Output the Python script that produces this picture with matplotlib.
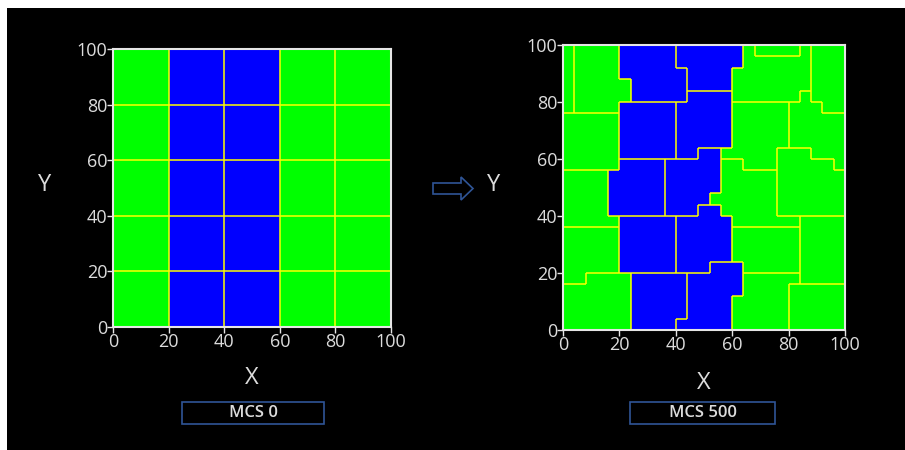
import numpy as np
import matplotlib.pyplot as plt
from matplotlib.colors import ListedColormap
from matplotlib.collections import LineCollection
from matplotlib.patches import Rectangle, FancyArrow
from matplotlib.transforms import IdentityTransform

plt.rcParams['font.family'] = ['Open Sans', 'DejaVu Sans']

# grain maps: one letter per grain, rows from the top (y=100) down
# lowercase = blue phase, uppercase = green phase
mcs0_rows = [
    "AbcDE",
    "FghIJ",
    "KlmNO",
    "PqrST",
    "UvwXY",
]

mcs500_rows = [
    "ABBBBaaaaabbbbbbHGGGGHIII",
    "ABBBBaaaaabbbbbbHHHHHHIII",
    "ABBBBaaaaaabbbbHHHHHHHIII",
    "ABBBBBaaaaabbbbHHHHHHHIII",
    "ABBBBBaaaaaddddHHHHHHLIII",
    "ABBBBcccccdddddKKKKKLLLII",
    "CCCCCcccccdddddKKKKKLLLLL",
    "CCCCCcccccdddddKKKKKLLLLL",
    "CCCCCcccccdddddKKKKKLLLLL",
    "CCCCCcccccddffKKKKKNNNLLL",
    "CCCCCeeeefffffMMKKKNNNNNL",
    "DDDDeeeeefffffMMMMMNNNNNN",
    "DDDDeeeeefffffMMMMMNNNNNN",
    "DDDDeeeeeffffMMMMMMNNNNNN",
    "DDDDeeeeefffhhMMMMMNNNNNN",
    "DDDDDggggghhhhhMMMMMMPPPP",
    "EEEEEggggghhhhhOOOOOOPPPP",
    "EEEEEggggghhhhhOOOOOOPPPP",
    "EEEEEggggghhhhhOOOOOOPPPP",
    "EEEEEggggghhhjjjOOOOOPPPP",
    "EEFFFFiiiiijjjjjQQQQQPPPP",
    "FFFFFFiiiiijjjjjQQQQRRRRR",
    "FFFFFFiiiiijjjjQQQQQRRRRR",
    "FFFFFFiiiiijjjjQQQQQRRRRR",
    "FFFFFFiiiijjjjjQQQQQRRRRR",
]

ticks = [0, 20, 40, 60, 80, 100]
titles = ["MCS 0", "MCS 500"]

GREEN = '#00ff00'
BLUE = '#0000ff'
EDGE = '#2f5597'
TXT = '#dcdcdc'


def draw_grains(ax, rows):
    grid = np.array([list(r) for r in rows])[::-1]
    ny, nx = grid.shape
    xs = np.linspace(0, 100, nx + 1)
    ys = np.linspace(0, 100, ny + 1)
    phase = np.vectorize(str.islower)(grid).astype(int)
    ax.pcolormesh(xs, ys, phase, cmap=ListedColormap([GREEN, BLUE]),
                  vmin=0, vmax=1)
    segs = []
    for j in range(ny):
        for i in range(nx - 1):
            if grid[j, i] != grid[j, i + 1]:
                segs.append([(xs[i + 1], ys[j]), (xs[i + 1], ys[j + 1])])
    for j in range(ny - 1):
        for i in range(nx):
            if grid[j, i] != grid[j + 1, i]:
                segs.append([(xs[i], ys[j + 1]), (xs[i + 1], ys[j + 1])])
    ax.add_collection(LineCollection(segs, colors='#ffff00', linewidths=1.1))


fig = plt.figure(figsize=(9.05, 4.5), dpi=100, facecolor='white')
fig.add_artist(Rectangle((7 / 905, 0), 1, 442 / 450, transform=fig.transFigure,
                         facecolor='black', edgecolor='none', zorder=0))

ax1 = fig.add_axes([113 / 905, 123 / 450, 278 / 905, 278 / 450])
ax2 = fig.add_axes([563 / 905, 120 / 450, 282 / 905, 285 / 450])

for ax, rows in [(ax1, mcs0_rows), (ax2, mcs500_rows)]:
    draw_grains(ax, rows)
    ax.set_xlim(0, 100)
    ax.set_ylim(0, 100)
    ax.set_xticks(ticks)
    ax.set_yticks(ticks)
    ax.set_facecolor('black')
    for s in ax.spines.values():
        s.set_color('#e6e6e6')
        s.set_linewidth(1.5)
    ax.tick_params(colors='#e6e6e6', labelcolor=TXT, labelsize=13,
                   length=4, width=1, pad=0)
    ax.text(-0.245, 0.51, 'Y', transform=ax.transAxes, ha='center',
            va='center', color=TXT, fontsize=17)
    ax.text(0.5, -0.185, 'X', transform=ax.transAxes, ha='center',
            va='center', color=TXT, fontsize=17)

# caption boxes under each panel
for (x0, x1), label in zip([(182, 324), (630, 775)], titles):
    fig.add_artist(Rectangle((x0 / 905, 26 / 450), (x1 - x0) / 905, 22 / 450,
                             transform=fig.transFigure, facecolor='black',
                             edgecolor=EDGE, linewidth=1.2))
    fig.text((x0 + x1) / 2 / 905, 37 / 450, label, ha='center', va='center',
             color=TXT, fontsize=12, fontweight='semibold')

# hollow arrow between panels
fig.add_artist(FancyArrow(433, 450 - 188.5, 40, 0, width=11, head_width=23,
                          head_length=12, length_includes_head=True,
                          transform=IdentityTransform(), facecolor='black',
                          edgecolor=EDGE, linewidth=1.2))

fig.savefig('out.png', dpi=100, facecolor=fig.get_facecolor())
